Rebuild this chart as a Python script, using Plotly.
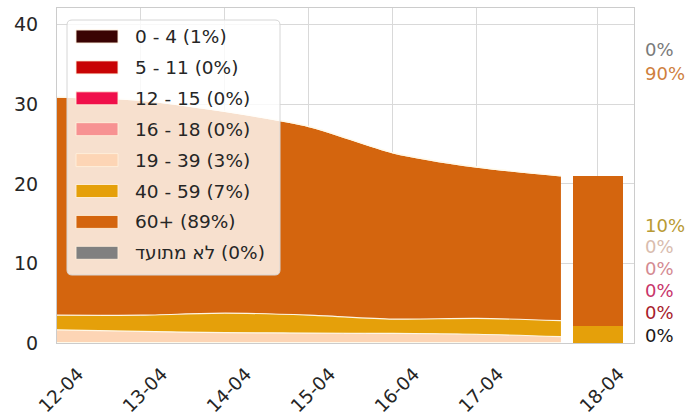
import plotly.graph_objects as go

# ---------------- data ----------------
area_dates = ["12-04", "13-04", "14-04", "15-04", "16-04", "17-04", "18-04"]
bar_date = "18-04"

groups = ["0 - 4", "5 - 11", "12 - 15", "16 - 18", "19 - 39", "40 - 59", "60+", "לא מתועד"]
legend_pct = [1, 0, 0, 0, 3, 7, 89, 0]

v_0_4 = [0.05, 0.05, 0.05, 0.05, 0.05, 0.05, 0.05]
v_5_11 = [0, 0, 0, 0, 0, 0, 0]
v_12_15 = [0, 0, 0, 0, 0, 0, 0]
v_16_18 = [0, 0, 0, 0, 0, 0, 0]
v_19_39 = [1.6, 1.4, 1.25, 1.2, 1.15, 1.05, 0.75]
v_40_59 = [1.85, 2.05, 2.45, 2.25, 1.8, 2.0, 2.0]
v_60p = [27.4, 27.0, 25.35, 23.7, 20.9, 19.0, 18.2]
v_unknown = [0, 0, 0, 0, 0, 0, 0]

bar_values = [0, 0, 0, 0, 0, 2.1, 18.9, 0]
bar_pct = [0, 0, 0, 0, 0, 10, 90, 0]

colors = ["#3a0303", "#c80404", "#f0104a", "#f79292", "#fdd5b5", "#e5a00a", "#d4650e", "#808080"]
label_colors = ["#201616", "#a81c2c", "#c8346a", "#d48a92", "#d9bcae", "#b89a34", "#cf7f3e", "#7a7a7a"]

series = [v_0_4, v_5_11, v_12_15, v_16_18, v_19_39, v_40_59, v_60p, v_unknown]

# ---------------- layout constants ----------------
W, H = 692, 416
ML, MR, MT, MB = 57, 58, 8, 73
PW, PH = W - ML - MR, H - MT - MB
FONT = "DejaVu Sans"
YMAX = 42.1
LRM = "\u200e"

def px_x(px):
    return (px - ML) / PW

def px_y(py):
    return (H - MB - py) / PH

area_x = list(range(len(area_dates)))
bar_x = area_x[-1] + 0.44

fig = go.Figure()

for name, vals, col in zip(groups, series, colors):
    fig.add_trace(go.Scatter(
        x=area_x, y=vals, name=name, stackgroup="area", mode="lines",
        line=dict(width=1.2, color="rgba(255,250,235,0.95)", shape="spline", smoothing=0.8),
        fillcolor=col, showlegend=False, hoverinfo="skip",
    ))

for name, v, col in zip(groups, bar_values, colors):
    fig.add_trace(go.Bar(
        x=[bar_x], y=[v], name=name, width=0.6, marker=dict(color=col, line=dict(width=0)),
        showlegend=False, hoverinfo="skip",
    ))

# ---------------- manual legend ----------------
shapes = []
annotations = []
lx0, lx1, ly0, ly1 = px_x(67), px_x(280), px_y(275), px_y(20)
rx, ry = 5 / PW, 5 / PH
path = (f"M {lx0+rx},{ly0} L {lx1-rx},{ly0} Q {lx1},{ly0} {lx1},{ly0+ry} "
        f"L {lx1},{ly1-ry} Q {lx1},{ly1} {lx1-rx},{ly1} L {lx0+rx},{ly1} "
        f"Q {lx0},{ly1} {lx0},{ly1-ry} L {lx0},{ly0+ry} Q {lx0},{ly0} {lx0+rx},{ly0} Z")
shapes.append(dict(type="path", xref="paper", yref="paper", path=path,
                   fillcolor="rgba(255,255,255,0.8)", line=dict(color="#d6d6d6", width=1)))
for i, (name, pct, col) in enumerate(zip(groups, legend_pct, colors)):
    cy = 36.5 + 30.9 * i
    shapes.append(dict(type="rect", xref="paper", yref="paper",
                       x0=px_x(76), x1=px_x(118), y0=px_y(cy + 6.5), y1=px_y(cy - 6.5),
                       fillcolor=col, line=dict(color="rgba(255,240,220,0.9)", width=1)))
    annotations.append(dict(xref="paper", yref="paper", x=px_x(133), y=px_y(cy),
                            xanchor="left", yanchor="middle", showarrow=False,
                            text=f"{LRM}{name}{LRM} ({pct}%)",
                            font=dict(family=FONT, size=18.5, color="#262626")))

# right-side percentage labels for the last bar
label_py = [335, 312, 290, 268, 246, 225, 73, 50]
for pct, col, py in zip(bar_pct, label_colors, label_py):
    annotations.append(dict(xref="paper", yref="paper", x=px_x(643), y=px_y(py),
                            xanchor="left", yanchor="middle", showarrow=False,
                            text=f"{pct}%", font=dict(family=FONT, size=18, color=col)))

fig.update_layout(
    width=W, height=H, margin=dict(l=ML, r=MR, t=MT, b=MB, pad=0, autoexpand=False),
    paper_bgcolor="white", plot_bgcolor="white",
    barmode="stack", bargap=0, showlegend=False,
    font=dict(family=FONT, size=18, color="#262626"),
    shapes=shapes, annotations=annotations,
)
fig.update_xaxes(
    range=[0, 6.87], tickmode="array",
    tickvals=area_x[:-1] + [bar_x], ticktext=area_dates[:-1] + [bar_date],
    tickangle=-45, ticks="", showgrid=True, gridcolor="#d9d9d9", gridwidth=1,
    showline=True, mirror=True, linecolor="#cccccc", linewidth=1, zeroline=False,
    tickfont=dict(family=FONT, size=18.5, color="#262626"),
    ticklabelshift=21, ticklabelstandoff=12, automargin=False,
)
fig.update_yaxes(
    range=[0, YMAX], tickmode="array", tickvals=[0, 10, 20, 30, 40],
    ticks="", showgrid=True, gridcolor="#d9d9d9", gridwidth=1,
    showline=True, mirror=True, linecolor="#cccccc", linewidth=1, zeroline=False,
    tickfont=dict(family=FONT, size=19, color="#262626"), ticklabelstandoff=14,
    automargin=False,
)

fig.write_html(
    "out.html",
    config={"displayModeBar": False},
    post_script="document.body.style.margin='0';document.body.style.padding='0';",
)
